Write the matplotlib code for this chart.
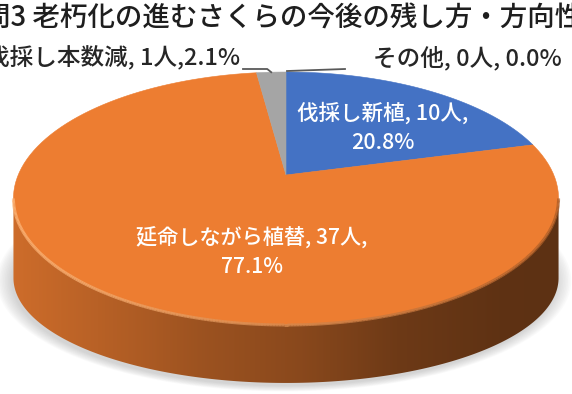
import numpy as np
import matplotlib
matplotlib.use('Agg')
import matplotlib.pyplot as plt
from matplotlib.transforms import Transform, Affine2D
from matplotlib.path import Path
from matplotlib.patches import Polygon
from matplotlib.collections import LineCollection

plt.rcParams['font.family'] = ['Noto Sans CJK JP', 'DejaVu Sans']

# ---------------- data ----------------
title = '問3 老朽化の進むさくらの今後の残し方・方向性'
categories = ['伐採し新植', '延命しながら植替', '伐採し本数減', 'その他']
counts = [10, 37, 1, 0]
label_seps = [',\n', ',\n', ',', ', ']
colors = ['#4472C4', '#ED7D31', '#A5A5A5', '#FFC000']
unit = '人'

total = sum(counts)
labels = [f"{c}, {n}{unit}{s}{n / total * 100:.1f}%"
          for c, n, s in zip(categories, counts, label_seps)]

# ---------------- figure ----------------
W, H = 572, 394
fig = plt.figure(figsize=(W / 100, H / 100), dpi=100)
ax = fig.add_axes([0, 0, 1, 1])

# perspective projection of the pie disc (unit circle -> pixel coords)
CX, A, K = 286.0, 267.8, 0.1858
TOP = (175.0, -89.6)
BOT = (258.5, -53.3)


def project(u, v, ab):
    a, b = ab
    w = 1 + K * v
    return CX + A * u / w, (a + b * v) / w


class Persp(Transform):
    input_dims = output_dims = 2
    is_separable = False
    has_inverse = False

    def __init__(self, ab):
        super().__init__()
        self.ab = ab

    def transform_non_affine(self, values):
        values = np.asarray(values, float).reshape(-1, 2)
        x, y = project(values[:, 0], values[:, 1], self.ab)
        return np.column_stack([x, y])

    def transform_path_non_affine(self, path):
        polys = path.to_polygons(transform=Affine2D().scale(1000), closed_only=False)
        paths = [Path(np.asarray(p) / 1000.0) for p in polys if len(p) > 1]
        if not paths:
            return path
        cp = Path.make_compound_path(*paths)
        return Path(self.transform_non_affine(cp.vertices), cp.codes)


# soft shadow
tt = np.linspace(0, 2 * np.pi, 400)
bx, by = project(np.cos(tt), np.sin(tt), BOT)
for i in range(10):
    s = 1 + i * 0.006
    ax.add_patch(Polygon(np.column_stack([CX - 2 + (bx - CX) * s, 282 + 3 + (by - 282) * s]),
                         closed=True, facecolor='#808080', edgecolor='none', alpha=0.035, zorder=1))

wedges, _ = ax.pie(counts, colors=colors, startangle=90, counterclock=False,
                   radius=1, center=(0, 0),
                   wedgeprops=dict(linewidth=0.4, zorder=5))
for w_, c, n in zip(wedges, colors, counts):
    w_.set_edgecolor(c if n > 0 else 'none')
    w_.set_linewidth(0.4 if n > 0 else 0)
    w_.set_transform(Persp(TOP) + ax.transData)

# side wall, per slice, with horizontal shading
tL = 180 + np.degrees(np.arcsin(K))
tR = 360 - np.degrees(np.arcsin(K))
xs_f = np.array([0, 20, 150, 200, 300, 400, 500, W])
fac = np.array([0.88, 0.86, 0.72, 0.66, 0.58, 0.46, 0.40, 0.39])
xg = np.arange(W) + 0.5
for w_, c in zip(wedges, colors):
    t1, t2 = sorted([w_.theta1, w_.theta2])
    for sh in (-360, 0, 360):
        lo, hi = max(t1 + sh, tL), min(t2 + sh, tR)
        if hi <= lo:
            continue
        th = np.radians(np.linspace(lo, hi, 300))
        tx, ty = project(np.cos(th), np.sin(th), TOP)
        ux, uy = project(np.cos(th), np.sin(th), BOT)
        poly = Polygon(np.vstack([np.column_stack([tx, ty]),
                                  np.column_stack([ux, uy])[::-1]]),
                       closed=True, facecolor='none', edgecolor='none', zorder=3)
        ax.add_patch(poly)
        rgb = np.array(matplotlib.colors.to_rgb(c))
        f = np.interp(xg, xs_f, fac)
        img = (f[:, None] * rgb[None, :])[None, :, :]
        im = ax.imshow(img, extent=(0, W, H, 0), aspect='auto',
                       interpolation='bilinear', zorder=3)
        im.set_clip_path(poly)
        # rim highlight along the top edge
        pts = np.column_stack([tx, ty])
        segs = np.stack([pts[:-1], pts[1:]], axis=1)
        mx = (pts[:-1, 0] + pts[1:, 0]) / 2
        light = np.array([1.0, 0.72, 0.48])
        dark = rgb * 0.72
        r = np.clip((mx - 0) / W, 0, 1)[:, None]
        cols = light * (1 - r) + dark * r
        ax.add_collection(LineCollection(segs, colors=cols, linewidths=2.2,
                                         alpha=0.8, zorder=6))

# ---------------- labels ----------------
txt_col = '#262626'
ax.text(283, 18, title, fontsize=19.8, ha='center', va='center', color='#1e1e1e',
        fontweight='medium', zorder=10)

ax.text(383, 128, labels[0], fontsize=15.5, ha='center', va='center', color='white',
        linespacing=1.4, fontweight='medium', zorder=10)
ax.text(252, 252, labels[1], fontsize=15.2, ha='center', va='center', color='white',
        linespacing=1.4, fontweight='medium', zorder=10)
ax.text(240, 58, labels[2], fontsize=17, ha='right', va='center', color=txt_col,
        fontweight='medium', zorder=10)
ax.text(373, 58, labels[3], fontsize=17, ha='left', va='center', color=txt_col,
        fontweight='medium', zorder=10)

# leader lines to the small slices
def mid_top(wd):
    m = np.radians((wd.theta1 + wd.theta2) / 2)
    return project(np.cos(m), np.sin(m), TOP)

gx, gy = mid_top(wedges[2])
ax.plot([243, gx - 4, gx], [69, 69, gy], color='#595959', lw=1.3, zorder=11)
ox, oy = mid_top(wedges[3])
ax.plot([ox + 1, 345], [oy - 1, 69], color='#595959', lw=1.3, zorder=11)

ax.set_aspect('auto')
ax.set_xlim(0, W)
ax.set_ylim(H, 0)
ax.set_axis_off()
fig.savefig('out.png', dpi=100, facecolor='white')
